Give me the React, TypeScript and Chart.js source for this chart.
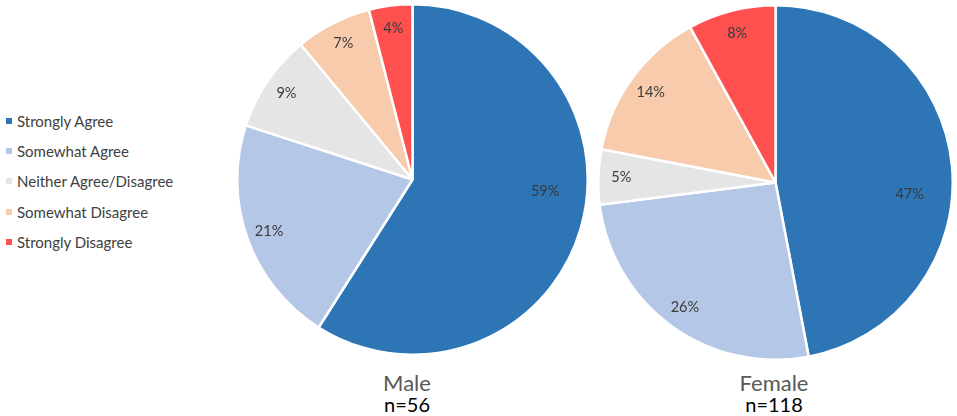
import { useEffect, useRef } from "react";
import { Chart, ArcElement, PieController } from "chart.js";

Chart.register(ArcElement, PieController);

const categories = [
  "Strongly Agree",
  "Somewhat Agree",
  "Neither Agree/Disagree",
  "Somewhat Disagree",
  "Strongly Disagree",
];
const colors = ["#2E75B6", "#B4C7E7", "#E5E5E5", "#F8CBAD", "#FF5050"];
const maleValues = [59, 21, 9, 7, 4];
const femaleValues = [47, 26, 5, 14, 8];

const FONT = "Lato, 'Open Sans', sans-serif";

// percentage labels inside each slice (big slices get their label near 3 o'clock, like Excel best fit)
const sliceLabels = {
  id: "sliceLabels",
  afterDatasetsDraw(chart: Chart) {
    const ctx = chart.ctx;
    const meta = chart.getDatasetMeta(0);
    const values = chart.data.datasets[0].data as number[];
    ctx.save();
    ctx.font = `14.5px ${FONT}`;
    ctx.fillStyle = "#3a3a3a";
    ctx.textAlign = "center";
    ctx.textBaseline = "middle";
    meta.data.forEach((arc: any, i: number) => {
      const { x, y, startAngle, endAngle, outerRadius } = arc.getProps(
        ["x", "y", "startAngle", "endAngle", "outerRadius"],
        true
      );
      const big = values[i] >= 40;
      const mid = big ? 0.09 : (startAngle + endAngle) / 2;
      const r = outerRadius * (big ? 0.76 : 0.87);
      ctx.fillText(`${values[i]}%`, x + Math.cos(mid) * r, y + Math.sin(mid) * r);
    });
    ctx.restore();
  },
};

function Pie({ values, size }: { values: number[]; size: number }) {
  const canvasRef = useRef<HTMLCanvasElement>(null);
  const chartRef = useRef<Chart | null>(null);

  useEffect(() => {
    if (!canvasRef.current) return;
    if (chartRef.current) chartRef.current.destroy();

    chartRef.current = new Chart(canvasRef.current, {
      type: "pie",
      data: {
        labels: categories,
        datasets: [
          {
            data: values,
            backgroundColor: colors,
            borderColor: "#fff",
            borderWidth: 2.5,
          },
        ],
      },
      options: {
        responsive: false,
        animation: false,
        events: [],
        plugins: { legend: { display: false }, tooltip: { enabled: false } },
      },
      plugins: [sliceLabels],
    });

    return () => {
      if (chartRef.current) chartRef.current.destroy();
      chartRef.current = null;
    };
  }, [values]);

  return <canvas ref={canvasRef} width={size} height={size} style={{ width: size, height: size }} />;
}

function Caption({ title, n, x }: { title: string; n: string; x: number }) {
  return (
    <div style={{ position: "absolute", left: x - 60, width: 120, top: 371.5, textAlign: "center", fontFamily: FONT }}>
      <div style={{ fontSize: 22, color: "#595959", lineHeight: "22.5px" }}>{title}</div>
      <div style={{ fontSize: 20, color: "#000", lineHeight: "21px" }}>{n}</div>
    </div>
  );
}

export default function App() {
  return (
    <div style={{ position: "fixed", left: 0, top: 0, width: 957, height: 416, background: "#fff", overflow: "hidden" }}>
      <div style={{ position: "absolute", left: 6, top: 105.5, fontFamily: FONT, fontSize: 15, color: "#404040" }}>
        {categories.map((c, i) => (
          <div key={c} style={{ display: "flex", alignItems: "center", height: 30.3 }}>
            <span style={{ width: 6, height: 6, background: colors[i], marginRight: 5 }} />
            <span>{c}</span>
          </div>
        ))}
      </div>
      <div style={{ position: "absolute", left: 236, top: 3 }}>
        <Pie values={maleValues} size={353} />
      </div>
      <div style={{ position: "absolute", left: 597, top: 4 }}>
        <Pie values={femaleValues} size={357} />
      </div>
      <Caption title="Male" n="n=56" x={407} />
      <Caption title="Female" n="n=118" x={774} />
    </div>
  );
}
